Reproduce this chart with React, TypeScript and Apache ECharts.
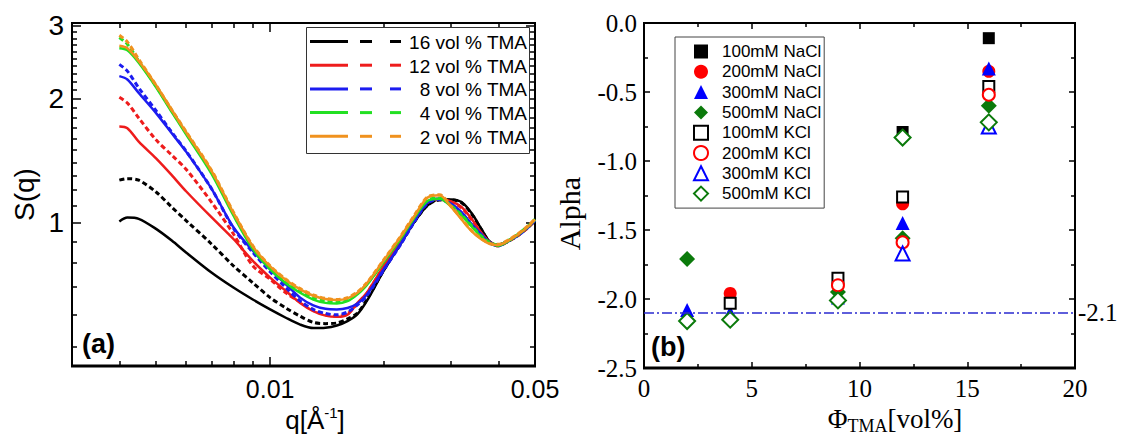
import React, { useEffect, useRef } from "react";
import * as echarts from "echarts";

// ---------- Panel (a) data: S(q) ----------
const qValues = [0.004, 0.0042, 0.0045, 0.005, 0.0055, 0.006, 0.007, 0.008, 0.009, 0.01, 0.011, 0.012, 0.013, 0.014, 0.015, 0.016, 0.017, 0.018, 0.02, 0.022, 0.024, 0.026, 0.028, 0.03, 0.032, 0.034, 0.036, 0.038, 0.04, 0.042, 0.045, 0.048, 0.05];

const s16Solid = [1.008, 1.03, 1.023, 0.967, 0.906, 0.848, 0.758, 0.697, 0.652, 0.617, 0.589, 0.567, 0.556, 0.557, 0.564, 0.578, 0.601, 0.647, 0.769, 0.884, 1.004, 1.102, 1.14, 1.14, 1.123, 1.056, 0.971, 0.9, 0.884, 0.9, 0.935, 0.98, 1.017];
const s16Dashed = [1.269, 1.28, 1.269, 1.188, 1.092, 1.013, 0.889, 0.787, 0.716, 0.659, 0.622, 0.594, 0.574, 0.57, 0.572, 0.585, 0.605, 0.652, 0.772, 0.886, 1.004, 1.102, 1.136, 1.136, 1.119, 1.052, 0.967, 0.897, 0.88, 0.897, 0.931, 0.976, 1.013];
const s12Solid = [1.712, 1.696, 1.573, 1.433, 1.305, 1.193, 1.032, 0.914, 0.809, 0.737, 0.684, 0.64, 0.611, 0.596, 0.592, 0.599, 0.64, 0.677, 0.79, 0.9, 1.019, 1.123, 1.144, 1.127, 1.092, 1.023, 0.949, 0.897, 0.884, 0.9, 0.935, 0.98, 1.017];
const s12Dashed = [2.015, 1.952, 1.795, 1.589, 1.46, 1.349, 1.123, 0.94, 0.787, 0.73, 0.677, 0.643, 0.614, 0.599, 0.594, 0.602, 0.638, 0.676, 0.787, 0.897, 1.015, 1.119, 1.14, 1.123, 1.088, 1.019, 0.945, 0.897, 0.88, 0.897, 0.931, 0.976, 1.013];
const s8Solid = [2.268, 2.226, 2.065, 1.845, 1.649, 1.488, 1.211, 0.976, 0.856, 0.772, 0.71, 0.659, 0.631, 0.619, 0.617, 0.622, 0.638, 0.671, 0.775, 0.884, 1.008, 1.119, 1.144, 1.113, 1.062, 0.994, 0.94, 0.897, 0.884, 0.9, 0.935, 0.98, 1.017];
const s8Dashed = [2.421, 2.332, 2.124, 1.87, 1.658, 1.493, 1.211, 0.971, 0.848, 0.761, 0.697, 0.647, 0.617, 0.603, 0.599, 0.608, 0.633, 0.666, 0.772, 0.88, 1.004, 1.115, 1.14, 1.109, 1.058, 0.99, 0.937, 0.893, 0.88, 0.897, 0.931, 0.976, 1.013];
const s4Solid = [2.649, 2.62, 2.444, 2.132, 1.856, 1.64, 1.317, 1.042, 0.864, 0.772, 0.714, 0.677, 0.652, 0.64, 0.638, 0.646, 0.671, 0.707, 0.806, 0.91, 1.028, 1.13, 1.144, 1.098, 1.042, 0.981, 0.927, 0.893, 0.88, 0.897, 0.935, 0.98, 1.017];
const s4Dashed = [2.813, 2.71, 2.467, 2.144, 1.87, 1.652, 1.33, 1.052, 0.872, 0.778, 0.719, 0.682, 0.659, 0.646, 0.643, 0.65, 0.674, 0.71, 0.809, 0.914, 1.032, 1.134, 1.149, 1.102, 1.046, 0.985, 0.931, 0.897, 0.884, 0.9, 0.938, 0.983, 1.021];
const s2Solid = [2.685, 2.649, 2.467, 2.156, 1.877, 1.658, 1.337, 1.058, 0.877, 0.784, 0.727, 0.69, 0.666, 0.654, 0.65, 0.656, 0.677, 0.714, 0.814, 0.92, 1.038, 1.151, 1.166, 1.094, 1.019, 0.955, 0.914, 0.889, 0.884, 0.9, 0.936, 0.981, 1.019];
const s2Dashed = [2.85, 2.745, 2.491, 2.156, 1.88, 1.664, 1.342, 1.062, 0.88, 0.787, 0.73, 0.693, 0.669, 0.656, 0.652, 0.659, 0.68, 0.716, 0.817, 0.923, 1.042, 1.155, 1.17, 1.098, 1.023, 0.958, 0.917, 0.892, 0.887, 0.904, 0.94, 0.985, 1.023];

const tmaLabels = ["16 vol % TMA", "12 vol % TMA", " 8 vol % TMA", " 4 vol % TMA", " 2 vol % TMA"];
const tmaColors = ["#000000", "#ee1c1c", "#1c1cf0", "#22e022", "#f0921e"];
const tmaSolid = [s16Solid, s12Solid, s8Solid, s4Solid, s2Solid];
const tmaDashed = [s16Dashed, s12Dashed, s8Dashed, s4Dashed, s2Dashed];

const qRange = [0.003, 0.05];
const sRange = [0.45, 3.05];
const qMajor = [0.01, 0.05];
const qMinor = [0.004, 0.005, 0.006, 0.007, 0.008, 0.009, 0.02, 0.03, 0.04];
const sMajor = [1, 2, 3];
const sMinor = [0.5, 0.6, 0.7, 0.8, 0.9, 1.1, 1.2, 1.3, 1.4, 1.5, 1.6, 1.7, 1.8, 1.9, 2.1, 2.2, 2.3, 2.4, 2.5, 2.6, 2.7, 2.8, 2.9];

// ---------- Panel (b) data: Alpha vs Phi_TMA ----------
const phiValues = [2, 4, 9, 12, 16];
const alphaNaCl100 = [null, null, null, -0.79, -0.11];
const alphaNaCl200 = [null, -1.96, null, -1.31, -0.35];
const alphaNaCl300 = [-2.08, -2.1, -1.99, -1.45, -0.33];
const alphaNaCl500 = [-1.71, null, -1.95, -1.56, -0.6];
const alphaKCl100 = [null, -2.03, -1.85, -1.26, -0.46];
const alphaKCl200 = [null, null, -1.9, -1.59, -0.52];
const alphaKCl300 = [null, null, null, -1.67, -0.75];
const alphaKCl500 = [-2.16, -2.15, -2.01, -0.83, -0.72];
const alphaRefLine = -2.1;

const saltNames = ["100mM NaCl", "200mM NaCl", "300mM NaCl", "500mM NaCl", "100mM KCl", "200mM KCl", "300mM KCl", "500mM KCl"];
const saltSeries = [alphaNaCl100, alphaNaCl200, alphaNaCl300, alphaNaCl500, alphaKCl100, alphaKCl200, alphaKCl300, alphaKCl500];
const saltSymbols = ["rect", "circle", "triangle", "diamond", "emptyRect", "emptyCircle", "emptyTriangle", "emptyDiamond"];
const saltSizes = [12, 13, 14, 16, 11, 12, 14, 16];
const saltColors = ["#000000", "#ff0000", "#0000ff", "#0b7a0b", "#000000", "#ff0000", "#0000ff", "#0b7a0b"];

const SANS = '"Liberation Sans", Arial, Helvetica, sans-serif';
const SERIF = '"Liberation Serif", "Times New Roman", Times, serif';
const lg = (v: number) => Math.log10(v);

// grid geometry (layout only)
const GA = { left: 72, top: 23, width: 463, height: 343 };
const GB = { left: 644, top: 23, width: 431, height: 345 };

function logLabel(ticks: number[]) {
  return (v: number) => {
    const t = ticks.find((x) => Math.abs(lg(x) - v) < 1e-6);
    return t === undefined ? "" : String(t);
  };
}

function buildOption() {
  const black = "#000";
  const mkLine = () => ({ show: true, onZero: false, lineStyle: { color: black, width: 2 } });
  const noLine = () => ({ show: false, onZero: false });

  const xA = (pos: string, major: boolean, withLabel: boolean) => ({
    gridIndex: 0,
    type: "value",
    position: pos,
    min: lg(qRange[0]),
    max: lg(qRange[1]),
    axisLine: major ? mkLine() : noLine(),
    axisTick: {
      show: true,
      inside: true,
      length: major ? 9 : 5,
      customValues: (major ? qMajor : qMinor).map(lg),
      lineStyle: { color: black, width: 1.5 },
    },
    axisLabel: withLabel
      ? { show: true, customValues: qMajor.map(lg), formatter: logLabel(qMajor), fontFamily: SANS, fontSize: 25, color: black, margin: 10 }
      : { show: false },
    splitLine: { show: false },
  });

  const yA = (pos: string, major: boolean, withLabel: boolean) => ({
    gridIndex: 0,
    type: "value",
    position: pos,
    min: lg(sRange[0]),
    max: lg(sRange[1]),
    axisLine: major ? mkLine() : noLine(),
    axisTick: {
      show: true,
      inside: true,
      length: major ? 9 : 5,
      customValues: (major ? sMajor : sMinor).map(lg),
      lineStyle: { color: black, width: 1.5 },
    },
    axisLabel: withLabel
      ? { show: true, customValues: sMajor.map(lg), formatter: logLabel(sMajor), fontFamily: SANS, fontSize: 28, color: black, margin: 8 }
      : { show: false },
    splitLine: { show: false },
    ...(withLabel
      ? {
          name: "S(q)",
          nameLocation: "middle",
          nameRotate: 90,
          nameGap: 34,
          nameTextStyle: { fontFamily: SANS, fontSize: 28, color: black },
        }
      : {}),
  });

  const tickB = () => ({ show: true, inside: true, length: 6, lineStyle: { color: black, width: 1.5 } });
  const minorB = () => ({ show: true, splitNumber: 2, length: 4, lineStyle: { color: black, width: 1.5 } });

  const xB = (pos: string, withLabel: boolean) => ({
    gridIndex: 1,
    type: "value",
    position: pos,
    min: 0,
    max: 20,
    interval: 5,
    axisLine: mkLine(),
    axisTick: tickB(),
    minorTick: minorB(),
    splitLine: { show: false },
    minorSplitLine: { show: false },
    axisLabel: withLabel ? { show: true, fontFamily: SERIF, fontSize: 25, color: black, margin: 8 } : { show: false },
  });

  const yB = (pos: string, withLabel: boolean) => ({
    gridIndex: 1,
    type: "value",
    position: pos,
    min: -2.5,
    max: 0,
    interval: 0.5,
    axisLine: mkLine(),
    axisTick: tickB(),
    minorTick: minorB(),
    splitLine: { show: false },
    minorSplitLine: { show: false },
    axisLabel: withLabel
      ? { show: true, fontFamily: SERIF, fontSize: 25, color: black, margin: 7, formatter: (v: number) => v.toFixed(1) }
      : { show: false },
    ...(withLabel
      ? {
          name: "Alpha",
          nameLocation: "middle",
          nameRotate: 90,
          nameGap: 60,
          nameTextStyle: { fontFamily: SERIF, fontSize: 30, color: black, padding: [0, 36, 0, 0] },
        }
      : {}),
  });

  const series: any[] = [];
  tmaLabels.forEach((label, i) => {
    const mk = (vals: number[], dashed: boolean) => ({
      name: label + (dashed ? " dashed" : " solid"),
      type: "line",
      xAxisIndex: 0,
      yAxisIndex: 0,
      showSymbol: false,
      smooth: 0.3,
      silent: true,
      lineStyle: { color: tmaColors[i], width: dashed ? 3 : 2.5, type: dashed ? [5, 3] : "solid" },
      data: qValues.map((q, k) => [lg(q), lg(vals[k])]),
    });
    series.push(mk(tmaSolid[i], false));
    series.push(mk(tmaDashed[i], true));
  });

  saltNames.forEach((name, i) => {
    const vals = saltSeries[i];
    const data: number[][] = [];
    phiValues.forEach((x, k) => {
      const v = vals[k];
      if (v !== null && v !== undefined) data.push([x, v as number]);
    });
    series.push({
      name,
      type: "scatter",
      xAxisIndex: 4,
      yAxisIndex: 4,
      symbol: saltSymbols[i],
      symbolSize: saltSizes[i],
      itemStyle: { color: saltColors[i], opacity: 1 },
      data,
      z: 3 + i * 0.01,
    });
  });

  series.push({
    name: "ref",
    type: "scatter",
    xAxisIndex: 4,
    yAxisIndex: 4,
    data: [],
    markLine: {
      silent: true,
      symbol: "none",
      lineStyle: { color: "#2a2ad0", width: 1.5, type: [10, 3, 2, 3] },
      label: {
        show: true,
        position: "end",
        distance: 3,
        formatter: String(alphaRefLine),
        fontFamily: SERIF,
        fontSize: 25,
        color: "#000",
      },
      data: [{ yAxis: alphaRefLine }],
    },
  });

  // legend (a) drawn as graphic (solid + dashed sample per row)
  const legendA: any[] = [
    {
      type: "rect",
      shape: { x: 306.5, y: 27.5, width: 223, height: 126 },
      style: { fill: "#fff", stroke: "#333", lineWidth: 1 },
      z: 50,
    },
  ];
  tmaLabels.forEach((label, i) => {
    const y = 41.5 + i * 23.7;
    const c = tmaColors[i];
    legendA.push({ type: "line", shape: { x1: 310, y1: y, x2: 348, y2: y }, style: { stroke: c, lineWidth: 3 }, z: 51 });
    legendA.push({ type: "line", shape: { x1: 360, y1: y, x2: 372, y2: y }, style: { stroke: c, lineWidth: 3 }, z: 51 });
    legendA.push({ type: "line", shape: { x1: 390, y1: y, x2: 401, y2: y }, style: { stroke: c, lineWidth: 3 }, z: 51 });
    legendA.push({
      type: "text",
      x: 527,
      y: y + 1,
      style: { text: label, fontFamily: SANS, fontSize: 19, fill: "#000", align: "right", verticalAlign: "middle" },
      z: 52,
    });
  });

  // bottom edge of each frame, as a solid filled bar
  const frameBottom = [GA, GB].map((g) => ({
    type: "rect",
    shape: { x: g.left - 1, y: g.top + g.height - 1.5, width: g.width + 2, height: 3 },
    style: { fill: "#000" },
    z: 100,
  }));

  return {
    animation: false,
    backgroundColor: "#fff",
    textStyle: { fontFamily: SANS },
    grid: [
      { ...GA, containLabel: false, outerBoundsMode: "none", show: true, borderColor: "#000", borderWidth: 2, backgroundColor: "transparent" },
      { ...GB, containLabel: false, outerBoundsMode: "none", show: true, borderColor: "#000", borderWidth: 2, backgroundColor: "transparent" },
    ],
    xAxis: [xA("bottom", true, true), xA("bottom", false, false), xA("top", true, false), xA("top", false, false), xB("bottom", true), xB("top", false)],
    yAxis: [yA("left", true, true), yA("left", false, false), yA("right", true, false), yA("right", false, false), yB("left", true), yB("right", false)],
    legend: {
      data: saltNames,
      orient: "vertical",
      left: 675,
      top: 37,
      itemWidth: 14,
      itemHeight: 14,
      itemGap: 3.3,
      padding: [6, 3, 6, 18],
      backgroundColor: "#fff",
      borderColor: "#444",
      borderWidth: 1,
      borderRadius: 0,
      selectedMode: false,
      textStyle: { fontFamily: SANS, fontSize: 17, color: "#000", padding: [0, 0, 0, 9] },
    },
    graphic: [
      ...legendA,
      ...frameBottom,
      {
        type: "text",
        x: 315,
        y: 405,
        style: {
          text: "{n|q[Å}{s|-1}{n|]}",
          align: "center",
          verticalAlign: "top",
          fill: "#000",
          rich: {
            n: { fontSize: 26, fontFamily: SANS, fill: "#000", verticalAlign: "bottom", lineHeight: 28 },
            s: { fontSize: 15, fontFamily: SANS, fill: "#000", verticalAlign: "top", lineHeight: 28 },
          },
        },
        z: 50,
      },
      {
        type: "text",
        x: 895,
        y: 405,
        style: {
          text: "{n|Φ}{s|TMA}{n|[vol%]}",
          align: "center",
          verticalAlign: "top",
          fill: "#000",
          rich: {
            n: { fontSize: 27, fontFamily: SERIF, fill: "#000", verticalAlign: "top", lineHeight: 30 },
            s: { fontSize: 18, fontFamily: SERIF, fill: "#000", verticalAlign: "bottom", lineHeight: 30 },
          },
        },
        z: 50,
      },
      {
        type: "text",
        left: 82,
        top: 330,
        style: { text: "(a)", fontFamily: SANS, fontSize: 27, fontWeight: "bold", fill: "#000" },
        z: 50,
      },
      {
        type: "text",
        left: 651,
        top: 333,
        style: { text: "(b)", fontFamily: SANS, fontSize: 27, fontWeight: "bold", fill: "#000" },
        z: 50,
      },
    ],
    series,
  };
}

export default function App() {
  const ref = useRef<HTMLDivElement>(null);
  useEffect(() => {
    if (!ref.current) return;
    const chart = echarts.init(ref.current, null, { renderer: "svg" });
    chart.setOption(buildOption() as any);
    return () => chart.dispose();
  }, []);
  return (
    <div
      ref={ref}
      style={{ position: "fixed", left: 0, top: 0, width: 1128, height: 436, background: "#fff" }}
    />
  );
}
